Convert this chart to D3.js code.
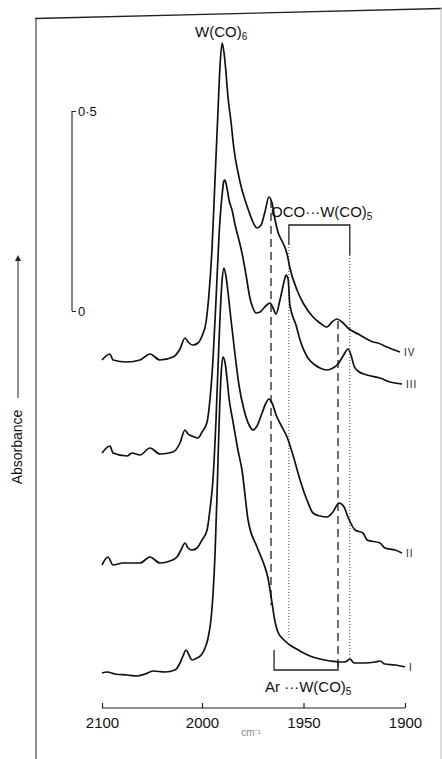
<!DOCTYPE html>
<html><head><meta charset="utf-8">
<script src="https://cdn.jsdelivr.net/npm/d3@7"></script>
<style>body{margin:0;background:#fff}svg{display:block}</style>
</head><body>
<svg id="c" width="442" height="759"></svg>
<script>
// ---- data (wavenumber cm-1, absorbance incl. vertical offset) ----
const wnI  = [2100,2095,2087,2075,2065,2057,2049,2037,2027,2022,2019,2016,2013,2010,2005,2000,1998.5,1997,1995.6,1994.6,1993.6,1992.6,1991.6,1990.6,1989.7,1988.7,1987.7,1986.7,1984.7,1982.3,1980.3,1977.3,1972.9,1969.9,1967.5,1965.5,1964,1962.6,1959.6,1956.7,1951.7,1946.8,1941.9,1936.9,1932.5,1929.6,1927.1,1925.1,1919.7,1914.8,1912.3,1909.9,1904.9,1900];
const absI = [0.095,0.0975,0.0925,0.09,0.0875,0.0925,0.1,0.0975,0.1025,0.12,0.1375,0.1525,0.14,0.1275,0.1325,0.1425,0.1575,0.1825,0.2275,0.29,0.39,0.54,0.715,0.84,0.885,0.8725,0.8325,0.7825,0.7225,0.6525,0.6025,0.4775,0.41,0.3725,0.3325,0.27,0.2225,0.1975,0.1775,0.165,0.15,0.1375,0.13,0.125,0.1225,0.1225,0.13,0.12,0.12,0.1225,0.125,0.1175,0.115,0.11];

const wnII  = [2100,2094,2089,2079,2062,2052,2042,2032,2025,2021,2017,2014,2010,2005,2000,1997.5,1996.1,1994.6,1993.1,1991.6,1990.1,1989.2,1988.2,1987.2,1985.7,1983.7,1981.8,1979.3,1976.8,1974.9,1972.9,1970.4,1968.5,1967,1965.5,1963.5,1961.1,1958.1,1955.2,1951.7,1948.3,1945.3,1941.9,1938.4,1935.5,1932.5,1930,1928.1,1924.6,1920.7,1918.7,1912.3,1909.9,1904.9,1901.5];
const absII = [0.365,0.385,0.365,0.37,0.37,0.385,0.37,0.375,0.385,0.4025,0.42,0.4075,0.4025,0.4075,0.4275,0.4525,0.5025,0.5775,0.7275,0.9275,1.0775,1.1075,1.0875,1.0475,0.9775,0.89,0.815,0.7525,0.715,0.7025,0.7125,0.745,0.77,0.78,0.77,0.74,0.715,0.685,0.64,0.5775,0.5275,0.495,0.4875,0.485,0.4975,0.52,0.51,0.485,0.4525,0.445,0.4275,0.42,0.4075,0.4025,0.395];

const wnIII  = [2100,2092,2089,2075,2070,2062,2052,2042,2029,2022,2017,2014,2010,2004,2000,1997.5,1996.1,1994.6,1993.1,1991.6,1990.1,1989.2,1988.7,1987.7,1986.7,1985.2,1983.7,1981.8,1980.3,1978.3,1976.4,1974.9,1973.4,1971.4,1969.5,1967.5,1966.5,1965,1963.5,1961.6,1959.6,1958.6,1957.6,1956.7,1953.7,1951.7,1947.8,1944.3,1941.9,1938.4,1935.5,1933,1930.5,1928.1,1926.6,1925.1,1923.2,1918.7,1912.3,1907.4,1901.5];
const absIII = [0.645,0.6625,0.645,0.6375,0.645,0.64,0.6575,0.6425,0.6475,0.67,0.7025,0.6925,0.6875,0.6825,0.6975,0.7225,0.7775,0.8775,1.0275,1.19,1.29,1.325,1.3275,1.3075,1.2775,1.2525,1.215,1.1775,1.145,1.09,1.0325,1.0075,0.995,0.9975,1.0075,1.0175,1.02,1.0075,0.9925,1.0275,1.0725,1.09,1.08,1.015,0.965,0.9275,0.8825,0.865,0.8575,0.8525,0.8575,0.8675,0.8875,0.905,0.89,0.8625,0.85,0.84,0.8325,0.8225,0.8175];

const wnIV  = [2100,2092,2089,2075,2062,2052,2042,2029,2022,2017,2014,2009,2004,2000,1998,1996.6,1995.1,1993.6,1992.1,1991.1,1990.1,1989.2,1988.2,1987.2,1985.7,1984.2,1982.3,1980.3,1978.8,1976.8,1974.9,1972.9,1970.9,1969,1967,1965.5,1964,1962.6,1960.1,1958.1,1956.7,1953.2,1950.2,1945.3,1941.9,1938.4,1936,1933.5,1931,1928.1,1922.2,1915.8,1913.3,1908.9,1902.5];
const absIV = [0.8775,0.8925,0.8775,0.8725,0.8775,0.8925,0.8775,0.885,0.905,0.9325,0.9225,0.915,0.92,0.9375,0.9725,1.04,1.1525,1.3275,1.5025,1.615,1.67,1.6475,1.5975,1.535,1.4725,1.4025,1.3475,1.3025,1.2775,1.2475,1.2225,1.2075,1.215,1.2475,1.285,1.27,1.2275,1.1975,1.17,1.1425,1.1075,1.0525,1.02,0.985,0.97,0.96,0.9725,0.98,0.9725,0.9575,0.94,0.9225,0.92,0.91,0.8975];

const spectrumNames = ["I","II","III","IV"];
const xTicks = [2100,2000,1950,1900];
const scaleBarTicks = [0,0.5];
const arBands = [1966,1933];       // Ar...W(CO)5 (dashed)
const ocoBands = [1957.2,1927.2];  // OCO...W(CO)5 (dotted)

// ---- scales ----
const svg = d3.select("#c");
const x = d3.scaleLinear().domain([2100,2000,1900]).range([102,202,405]); // scale change at 2000
const y = d3.scaleLinear().domain([0,1.5]).range([711,111]);
const FONT = "'Liberation Sans', Arial, sans-serif";

// frame
svg.append("line").attr("x1",35).attr("y1",18.5).attr("x2",442).attr("y2",8.5).attr("stroke","#222").attr("stroke-width",1.3);
svg.append("line").attr("x1",36).attr("y1",18).attr("x2",36).attr("y2",759).attr("stroke","#333").attr("stroke-width",1.1);
svg.append("line").attr("x1",441).attr("y1",8).attr("x2",441).attr("y2",759).attr("stroke","#bbb").attr("stroke-width",1);

// x axis
const ax = svg.append("g").attr("transform","translate(0,708)")
  .call(d3.axisBottom(x).tickValues(xTicks).tickSize(-5).tickPadding(9).tickFormat(d3.format("d")));
ax.select(".domain").attr("stroke","#222").attr("stroke-width",1.2).attr("d","M102,0H405");
ax.selectAll(".tick line").attr("stroke","#222").attr("stroke-width",1.2);
ax.selectAll("text").attr("font-family",FONT).attr("font-size",15).attr("fill","#111");
svg.append("text").attr("x",251).attr("y",736).attr("text-anchor","middle")
  .attr("font-family",FONT).attr("font-size",10).attr("fill","#888").text("cm\u207B\u00B9");

// absorbance scale bar
const sb = d3.scaleLinear().domain([0,0.5]).range([y(1.0), y(1.5)]);
const sg = svg.append("g").attr("transform","translate(72,0)")
  .call(d3.axisRight(sb).tickValues(scaleBarTicks).tickSize(4).tickPadding(2).tickFormat(d=> d===0?"0":"0\u00B75"));
sg.select(".domain").attr("stroke","#222").attr("stroke-width",1.1).attr("d",`M0,${sb(0)}V${sb(0.5)}`);
sg.selectAll(".tick line").attr("stroke","#222");
sg.selectAll("text").attr("font-family",FONT).attr("font-size",13).attr("fill","#111");

// Absorbance label with arrow
svg.append("defs").append("marker").attr("id","arr").attr("viewBox","0 0 10 10").attr("refX",5).attr("refY",5)
  .attr("markerWidth",6).attr("markerHeight",6).attr("orient","auto")
  .append("path").attr("d","M0,0L10,5L0,10z").attr("fill","#222");
svg.append("line").attr("x1",18).attr("y1",398).attr("x2",18).attr("y2",258)
  .attr("stroke","#222").attr("stroke-width",1).attr("marker-end","url(#arr)");
svg.append("text").attr("transform","translate(22,447) rotate(-90)").attr("text-anchor","middle")
  .attr("font-family",FONT).attr("font-size",14).attr("fill","#111").text("Absorbance");

// reference lines
function vline(wn, a0, a1, dash, w, col){
  svg.append("line").attr("x1",x(wn)).attr("x2",x(wn)).attr("y1",y(a0)).attr("y2",y(a1))
    .attr("stroke",col).attr("stroke-width",w).attr("stroke-dasharray",dash);
}
vline(arBands[0], 1.2775, 0.265, "8,5", 1.3, "#222");
vline(arBands[1], 0.975, 0.1025, "8,5", 1.3, "#222");
vline(ocoBands[0], 1.16, 0.1775, "1,2", 1, "#444");
vline(ocoBands[1], 1.14, 0.1325, "1,2", 1, "#444");

// brackets
const bracket = (pts)=> svg.append("path").attr("d",d3.line()(pts)).attr("fill","none").attr("stroke","#222").attr("stroke-width",1.3);
bracket([[x(ocoBands[0]),y(1.165)],[x(ocoBands[0]),y(1.215)],[x(ocoBands[1]),y(1.215)],[x(ocoBands[1]),y(1.14)]]);
bracket([[x(1964.5),y(0.1525)],[x(1964.5),y(0.1025)],[x(arBands[1]),y(0.1025)],[x(arBands[1]),y(0.125)]]);

// spectra
const line = d3.line().x(d=>x(d[0])).y(d=>y(d[1])).curve(d3.curveMonotoneX);
const spectra = [[wnI,absI],[wnII,absII],[wnIII,absIII],[wnIV,absIV]];
spectra.forEach(([w,a],i)=>{
  svg.append("path").datum(w.map((v,k)=>[v,a[k]])).attr("d",line)
    .attr("fill","none").attr("stroke","#111").attr("stroke-width",1.7).attr("stroke-linejoin","round");
  const last = w.length-1;
  svg.append("text").attr("x",x(w[last])+4).attr("y",y(a[last])+4)
    .attr("font-family",FONT).attr("font-size",10).attr("letter-spacing",1).attr("fill","#222").text(spectrumNames[i]);
});

// labels
function chemLabel(px, py, parts){
  const t = svg.append("text").attr("x",px).attr("y",py).attr("font-family",FONT).attr("font-size",15).attr("fill","#111");
  parts.forEach(p=>{
    const s = t.append("tspan").text(p.t);
    if(p.sub){ s.attr("font-size",10).attr("dy",3); }
  });
}
chemLabel(195, 37, [{t:"W(CO)"},{t:"6",sub:true}]);
chemLabel(271, 217, [{t:"OCO\u00B7\u00B7\u00B7W(CO)"},{t:"5",sub:true}]);
chemLabel(265, 692, [{t:"Ar \u00B7\u00B7\u00B7W(CO)"},{t:"5",sub:true}]);
</script>
</body></html>
